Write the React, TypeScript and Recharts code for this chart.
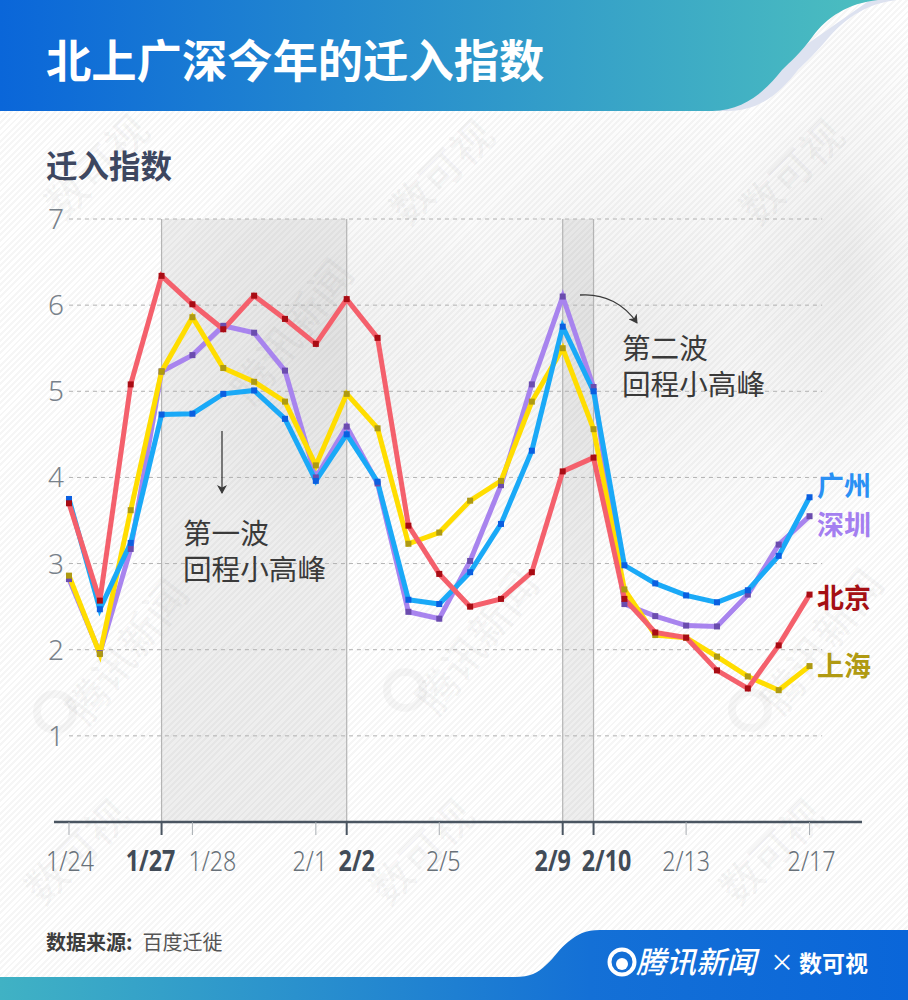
import React from "react";
import { LineChart, Line, XAxis, YAxis, ReferenceArea, ReferenceLine } from "recharts";

const dates = ["1/24", "1/25", "1/26", "1/27", "1/28", "1/29", "1/30", "1/31", "2/1", "2/2", "2/3", "2/4", "2/5", "2/6", "2/7", "2/8", "2/9", "2/10", "2/11", "2/12", "2/13", "2/14", "2/15", "2/16", "2/17"];
const beijing = [3.7, 2.57, 5.08, 6.34, 6.01, 5.72, 6.11, 5.84, 5.55, 6.07, 5.62, 3.44, 2.88, 2.5, 2.59, 2.9, 4.07, 4.23, 2.59, 2.2, 2.14, 1.76, 1.55, 2.05, 2.64];
const shanghai = [2.86, 1.95, 3.62, 5.23, 5.86, 5.27, 5.11, 4.88, 4.14, 4.97, 4.57, 3.23, 3.36, 3.73, 3.96, 4.88, 5.5, 4.56, 2.7, 2.17, 2.14, 1.92, 1.69, 1.53, 1.81];
const guangzhou = [3.75, 2.47, 3.24, 4.73, 4.74, 4.97, 5.01, 4.68, 3.96, 4.5, 3.95, 2.58, 2.53, 2.9, 3.46, 4.31, 5.75, 5.0, 2.98, 2.77, 2.63, 2.55, 2.69, 3.09, 3.77];
const shenzhen = [2.82, 1.96, 3.17, 5.23, 5.42, 5.76, 5.68, 5.24, 4.0, 4.59, 3.93, 2.44, 2.36, 3.03, 3.91, 5.08, 6.1, 5.05, 2.53, 2.39, 2.28, 2.27, 2.64, 3.22, 3.55];

const xTicks = [0, 3, 4, 8, 9, 12, 16, 17, 20, 24];
const boldTicks = [3, 9, 16, 17];
const yTicks = [1, 2, 3, 4, 5, 6, 7];

const rows = dates.map((d, i) => ({ day: i, date: d, beijing: beijing[i], shanghai: shanghai[i], guangzhou: guangzhou[i], shenzhen: shenzhen[i] }));

const CJK = '"Noto Sans CJK SC", sans-serif';
// labels do not sit straight under their ticks in the original
const labelNudge: Record<number, number> = { 0: 1, 3: -11, 4: 20, 8: -6, 9: 10, 12: 4, 16: -10, 17: 13, 20: 0, 24: 2 };

const series = [
  { key: "shenzhen", name: "深圳", color: "#a884ee", dot: "#6b4cae", text: "#a47ff0", dy: 9 },
  { key: "shanghai", name: "上海", color: "#ffdd00", dot: "#ae9a12", text: "#b09a12", dy: 0 },
  { key: "guangzhou", name: "广州", color: "#1aa9f7", dot: "#0b5fe0", text: "#2a90f4", dy: -11 },
  { key: "beijing", name: "北京", color: "#f4606c", dot: "#a80c14", text: "#a50f14", dy: 3 },
];

const marks = [
  { text: "腾讯新闻", x: 125, y: 650, r: -52 },
  { text: "腾讯新闻", x: 475, y: 640, r: -52 },
  { text: "腾讯新闻", x: 820, y: 640, r: -52 },
  { text: "腾讯新闻", x: 290, y: 330, r: -52 },
  { text: "数可视", x: 95, y: 165, r: -45 },
  { text: "数可视", x: 440, y: 170, r: -45 },
  { text: "数可视", x: 790, y: 170, r: -45 },
  { text: "数可视", x: 75, y: 850, r: -45 },
  { text: "数可视", x: 420, y: 850, r: -45 },
  { text: "数可视", x: 770, y: 850, r: -45 },
];
const rings = [
  { x: 55, y: 712 },
  { x: 405, y: 690 },
  { x: 750, y: 710 },
];

const XTick = (p: any) => {
  const v = p.payload.value;
  const bold = boldTicks.includes(v);
  return (
    <g>
      <line x1={p.x} x2={p.x} y1={p.y} y2={p.y + 13} stroke={bold ? "#4a5561" : "#a9aeb3"} strokeWidth={bold ? 2 : 1} />
      <text
        transform={`translate(${p.x + labelNudge[v]},${p.y + 49}) scale(0.83,1)`}
        textAnchor="middle"
        fontFamily='"Noto Sans", sans-serif'
        fontSize={28}
        fontWeight={bold ? 700 : 300}
        fill={bold ? "#414b57" : "#687179"}
      >
        {dates[v]}
      </text>
    </g>
  );
};

const YTick = (p: any) => (
  <text x={p.x - 6} y={p.y + 10} fontFamily='"Noto Sans", sans-serif' fontSize={28} fontWeight={300} fill="#78818a">
    {p.payload.value}
  </text>
);

const squareDot = (color: string) => (p: any) => (
  <rect key={p.index} x={p.cx - 3} y={p.cy - 3} width={6} height={6} fill={color} />
);

const endLabel = (s: (typeof series)[number]) => (p: any) =>
  p.index === dates.length - 1 ? (
    <text key="end" x={817} y={p.y + s.dy + 10} fontFamily={CJK} fontSize={27} fontWeight={700} fill={s.text}>
      {s.name}
    </text>
  ) : null;

export default function App() {
  return (
    <div
      style={{
        position: "absolute",
        left: 0,
        top: 0,
        width: 908,
        height: 1000,
        overflow: "hidden",
        backgroundColor: "#fff",
        backgroundImage:
          "radial-gradient(ellipse 300px 260px at 640px 330px, rgba(0,0,0,0.06), rgba(0,0,0,0) 100%)," +
          "radial-gradient(ellipse 170px 220px at 330px 340px, rgba(0,0,0,0.055), rgba(0,0,0,0) 100%)," +
          "radial-gradient(ellipse 120px 260px at 850px 260px, rgba(0,0,0,0.06), rgba(0,0,0,0) 100%)," +
          "repeating-linear-gradient(135deg, #fff 0, #fff 2.4px, #f6f6f6 2.4px, #f6f6f6 4.4px)",
      }}
    >
      {marks.map((m, i) => (
        <div
          key={i}
          style={{
            position: "absolute",
            left: m.x - 100,
            top: m.y - 30,
            width: 200,
            lineHeight: "60px",
            textAlign: "center",
            fontFamily: CJK,
            fontWeight: 700,
            fontSize: 42,
            color: "rgba(0,0,0,0.028)",
            transform: `rotate(${m.r}deg)`,
          }}
        >
          {m.text}
        </div>
      ))}

      <svg width={908} height={1000} style={{ position: "absolute", left: 0, top: 0 }}>
        <defs>
          <linearGradient id="head" gradientUnits="userSpaceOnUse" x1={0} x2={880} y1={0} y2={0}>
            <stop offset="0" stopColor="#0a66d9" />
            <stop offset="1" stopColor="#4cbfbf" />
          </linearGradient>
          <linearGradient id="foot" gradientUnits="userSpaceOnUse" x1={0} x2={908} y1={0} y2={0}>
            <stop offset="0" stopColor="#40b2c4" />
            <stop offset="0.65" stopColor="#1470d6" />
            <stop offset="1" stopColor="#0a66d9" />
          </linearGradient>
        </defs>
        {rings.map((r, i) => (
          <circle key={i} cx={r.x} cy={r.y} r={18} fill="none" stroke="#000" strokeOpacity={0.03} strokeWidth={8} />
        ))}
        <path d="M870 0 H897 C868 3 846 18 830 36 C815 54 806 62 798 70 C782 90 762 111 728 111 H712 Z" fill="#dde2f0" />
        <path d="M0 0 H878 C848 3 826 18 813 36 C800 54 790 62 782 70 C766 90 745 111 712 111 H0 Z" fill="url(#head)" />
        <path d="M0 977 H515 C530 977 538 973 546 965 C555 957 560 948 568 942 C578 934 585 930 600 930 H908 V1000 H0 Z" fill="url(#foot)" />
        <circle cx={622} cy={962} r={12.5} fill="none" stroke="#fff" strokeWidth={4} />
        <circle cx={622} cy={964} r={6} fill="#fff" />
      </svg>

      <div style={{ position: "absolute", left: 46, top: 28, fontFamily: CJK, fontWeight: 700, fontSize: 45.3, lineHeight: "60px", color: "#fff", whiteSpace: "nowrap" }}>
        北上广深今年的迁入指数
      </div>
      <div style={{ position: "absolute", left: 46, top: 142, fontFamily: CJK, fontWeight: 700, fontSize: 31.5, lineHeight: "44px", color: "#3d4760", whiteSpace: "nowrap" }}>
        迁入指数
      </div>

      <div style={{ position: "absolute", left: 0, top: 0 }}>
        <LineChart width={908} height={1000} data={rows} margin={{ top: 219, right: 46, bottom: 118, left: 0 }}>
          <XAxis
            dataKey="day"
            type="number"
            domain={[-0.486, 25.7]}
            ticks={xTicks}
            interval={0}
            height={60}
            tickLine={false}
            tickSize={0}
            tickMargin={0}
            axisLine={{ stroke: "#4a5561", strokeWidth: 2.5 }}
            tick={XTick}
            allowDataOverflow
          />
          <YAxis width={54} domain={[0, 7]} ticks={yTicks} axisLine={false} tickLine={false} tickSize={0} tickMargin={0} tick={YTick} interval={0} />

          <ReferenceArea x1={3} x2={9} y1={0} y2={7} fill="#7a7a7a" fillOpacity={0.13} stroke="none" />
          <ReferenceArea x1={16} x2={17} y1={0} y2={7} fill="#7a7a7a" fillOpacity={0.13} stroke="none" />
          {[3, 9, 16, 17].map((d) => (
            <ReferenceLine key={d} x={d} stroke="#b4b4b4" strokeWidth={1.2} />
          ))}
          {yTicks.map((v) => (
            <ReferenceLine key={v} segment={[{ x: 0, y: v }, { x: 24.41, y: v }]} stroke="#b2b2b2" strokeWidth={1} strokeDasharray="4 4" />
          ))}

          {series.map((s) => (
            <Line
              key={s.key}
              dataKey={s.key}
              type="linear"
              stroke={s.color}
              strokeWidth={5}
              strokeLinejoin="miter"
              dot={squareDot(s.dot)}
              activeDot={false}
              label={endLabel(s)}
              isAnimationActive={false}
            />
          ))}
        </LineChart>
      </div>

      <svg width={908} height={1000} style={{ position: "absolute", left: 0, top: 0, pointerEvents: "none" }}>
        <defs>
          <marker id="tip" markerWidth={10} markerHeight={10} refX={8} refY={5} orient="auto" markerUnits="userSpaceOnUse">
            <path d="M0 0 L9 5 L0 10 L2.5 5 Z" fill="#3a3a3a" />
          </marker>
        </defs>
        <line x1={222} y1={431} x2={222} y2={493} stroke="#3a3a3a" strokeWidth={1.3} markerEnd="url(#tip)" />
        <path d="M580 295 C605 293 625 305 637 323" fill="none" stroke="#3a3a3a" strokeWidth={1.3} markerEnd="url(#tip)" />
        <g fontFamily={CJK} fontSize={28.6} fill="#3a3a3a">
          <text x={183} y={544}>
            <tspan x={183}>第一波</tspan>
            <tspan x={183} dy={36}>回程小高峰</tspan>
          </text>
          <text x={622} y={359}>
            <tspan x={622}>第二波</tspan>
            <tspan x={622} dy={36}>回程小高峰</tspan>
          </text>
        </g>
        <text x={46} y={950} fontFamily={CJK} fontSize={20} fill="#555">
          <tspan fontWeight={700} fill="#3d3d3d">数据来源:</tspan>
          <tspan dx={10}>百度迁徙</tspan>
        </text>
        <text x={636} y={973} fontFamily={CJK} fontSize={30} fontWeight={500} fontStyle="italic" fill="#fff">腾讯新闻</text>
        <text x={770} y={971} fontFamily={CJK} fontSize={24} fill="#fff">×</text>
        <text x={799} y={972} fontFamily={CJK} fontSize={23} fontWeight={700} fill="#fff">数可视</text>
      </svg>
    </div>
  );
}
